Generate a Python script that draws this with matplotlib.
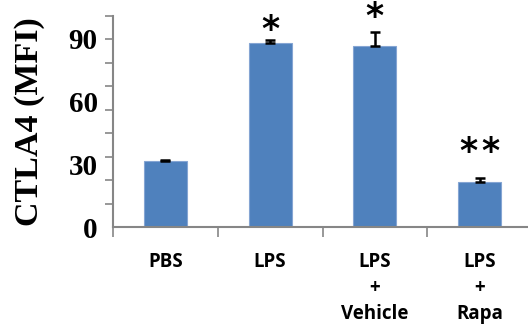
import matplotlib
matplotlib.use("Agg")
import matplotlib.pyplot as plt
import numpy as np

# group names, mean MFI and error bar (upper) values
groups = ["PBS", "LPS", "LPS\n+\nVehicle", "LPS\n+\nRapa"]
ctla4_mfi = [31.7, 87.9, 86.5, 21.7]
ctla4_err = [0.5, 1.6, 6.7, 1.9]
n_stars = [0, 1, 1, 2]
star_y = [0, 94.5, 100.3, 35.7]
ytick_values = [0, 30, 60, 90]

bar_color = "#4F81BD"
axis_gray = "#868686"

fig = plt.figure(figsize=(5.28, 3.24), dpi=100)
ax = fig.add_axes([113 / 528, 97 / 324, 419 / 528, 211 / 324])

x = np.arange(len(groups))
ax.bar(x, ctla4_mfi, width=0.41, color=bar_color, edgecolor="#85A5D3", linewidth=0.8, zorder=2)
ax.errorbar(x, ctla4_mfi, yerr=[np.zeros(len(x)), ctla4_err], fmt="none",
            ecolor="black", elinewidth=1.8, capsize=3.3, capthick=1.8, zorder=3)

# significance marks above the error bars
star_gap = 0.21
for xi, sy, n in zip(x, star_y, n_stars):
    for k in range(n):
        sx = xi + (k - (n - 1) / 2) * star_gap
        ax.text(sx, sy, "*", ha="center", va="center", fontsize=25,
                fontweight="bold", family="DejaVu Sans", clip_on=False)

ymax = 101
ax.set_xlim(-0.5, len(groups) - 0.5)
ax.set_ylim(0, ymax)

# spines
for side in ["top", "right"]:
    ax.spines[side].set_visible(False)
for side in ["left", "bottom"]:
    ax.spines[side].set_color(axis_gray)
    ax.spines[side].set_linewidth(1.5)

# y axis: labelled values plus evenly spaced tick marks
ax.set_yticks(ytick_values)
ax.set_yticklabels([str(v) for v in ytick_values], fontsize=21, fontweight="bold",
                   family="Liberation Serif")
ax.tick_params(axis="y", which="major", length=0, pad=11)
ax.set_yticks(np.linspace(0, ymax, 10), minor=True)
ax.tick_params(axis="y", which="minor", length=6, width=1.2, color=axis_gray, direction="out")

# x axis: tick marks between groups, labels under bars
ax.set_xticks(np.arange(len(groups) + 1) - 0.5)
ax.set_xticklabels([])
ax.tick_params(axis="x", which="major", length=7, width=1.2, color=axis_gray, direction="out")
ax.set_xticks(x, minor=True)
ax.set_xticklabels(groups, minor=True, fontsize=13.5, fontweight="bold", family="Open Sans",
                   va="top", linespacing=1.4)
ax.tick_params(axis="x", which="minor", length=0, pad=18)

fig.text(30 / 528, 1 - 122 / 324, "CTLA4 (MFI)", rotation=90, ha="center", va="center",
         fontsize=24.5, fontweight="bold", family="Liberation Serif")

fig.savefig("out.png", dpi=100)
